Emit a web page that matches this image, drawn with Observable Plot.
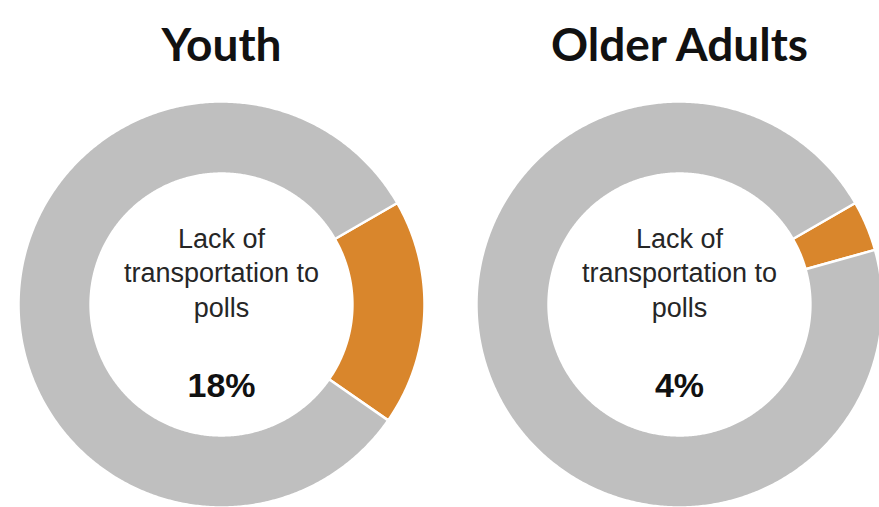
<!DOCTYPE html>
<html>
<head>
<meta charset="utf-8">
<script src="https://cdn.jsdelivr.net/npm/d3@7"></script>
<script src="https://cdn.jsdelivr.net/npm/@observablehq/plot@0.6"></script>
<style>
  html, body { margin: 0; padding: 0; background: #ffffff; }
  #chart { width: 879px; height: 507px; overflow: hidden; }
</style>
</head>
<body>
<div id="chart"></div>
<script>
// ---- data ----
const groups = ["Youth", "Older Adults"];
const categories = ["Lack of transportation to polls", "Other"];
const lackOfTransportPct = [18, 4];          // share citing lack of transportation
const centerLabelLines = ["Lack of", "transportation to", "polls"];
const sliceColors = ["#d9862c", "#bfbfbf"];

// ---- layout (in donut-radius units, 1 unit = outer radius) ----
const W = 879, H = 507;
const pxPerUnit = 203;            // outer radius in pixels
const originPx = {x: 221, y: 304}; // first donut centre
const spacing = 2.256;            // distance between donut centres
const innerRatio = 0.645;
const startDeg = 60;              // clockwise from 12 o'clock

// build slice polygons from the values
const slices = [];
groups.forEach((g, gi) => {
  const cx = gi * spacing;
  const vals = [lackOfTransportPct[gi], 100 - lackOfTransportPct[gi]];
  let acc = 0;
  vals.forEach((v, ci) => {
    const a0 = startDeg + acc / 100 * 360;
    const a1 = startDeg + (acc + v) / 100 * 360;
    acc += v;
    const key = g + "|" + categories[ci];
    const n = Math.max(4, Math.ceil((a1 - a0) / 0.5));
    const pts = [];
    for (let k = 0; k <= n; k++) {
      const a = (a0 + (a1 - a0) * k / n) * Math.PI / 180;
      pts.push({key, color: sliceColors[ci], x: cx + Math.sin(a), y: Math.cos(a)});
    }
    for (let k = n; k >= 0; k--) {
      const a = (a0 + (a1 - a0) * k / n) * Math.PI / 180;
      pts.push({key, color: sliceColors[ci], x: cx + innerRatio * Math.sin(a), y: innerRatio * Math.cos(a)});
    }
    slices.push(...pts);
  });
});

const toY = px => (originPx.y - px) / pxPerUnit;
const titles = groups.map((g, gi) => ({text: g, x: gi * spacing, y: toY(46)}));
const labels = groups.map((g, gi) => ({text: centerLabelLines.join("\n"), x: gi * spacing, y: toY(271)}));
const pcts = groups.map((g, gi) => ({text: lackOfTransportPct[gi] + "%", x: gi * spacing, y: toY(386)}));

const chart = Plot.plot({
  width: W,
  height: H,
  margin: 0,
  x: {domain: [-originPx.x / pxPerUnit, (W - originPx.x) / pxPerUnit], axis: null},
  y: {domain: [-(H - originPx.y) / pxPerUnit, originPx.y / pxPerUnit], axis: null},
  color: {type: "identity"},
  style: {background: "#ffffff"},
  marks: [
    Plot.line(slices, {x: "x", y: "y", z: "key", fill: "color", stroke: "#ffffff", strokeWidth: 2.5, curve: "linear-closed"}),
    Plot.text(titles, {x: "x", y: "y", text: "text", fontSize: 46, fontWeight: "bold", fontFamily: "Lato", fill: "#111111"}),
    Plot.text(labels, {x: "x", y: "y", text: "text", fontSize: 27, lineHeight: 1.27, fontFamily: "Liberation Sans", fill: "#262626"}),
    Plot.text(pcts, {x: "x", y: "y", text: "text", fontSize: 34, fontWeight: "bold", fontFamily: "Liberation Sans", fill: "#111111"})
  ]
});
document.getElementById("chart").appendChild(chart);
</script>
</body>
</html>
